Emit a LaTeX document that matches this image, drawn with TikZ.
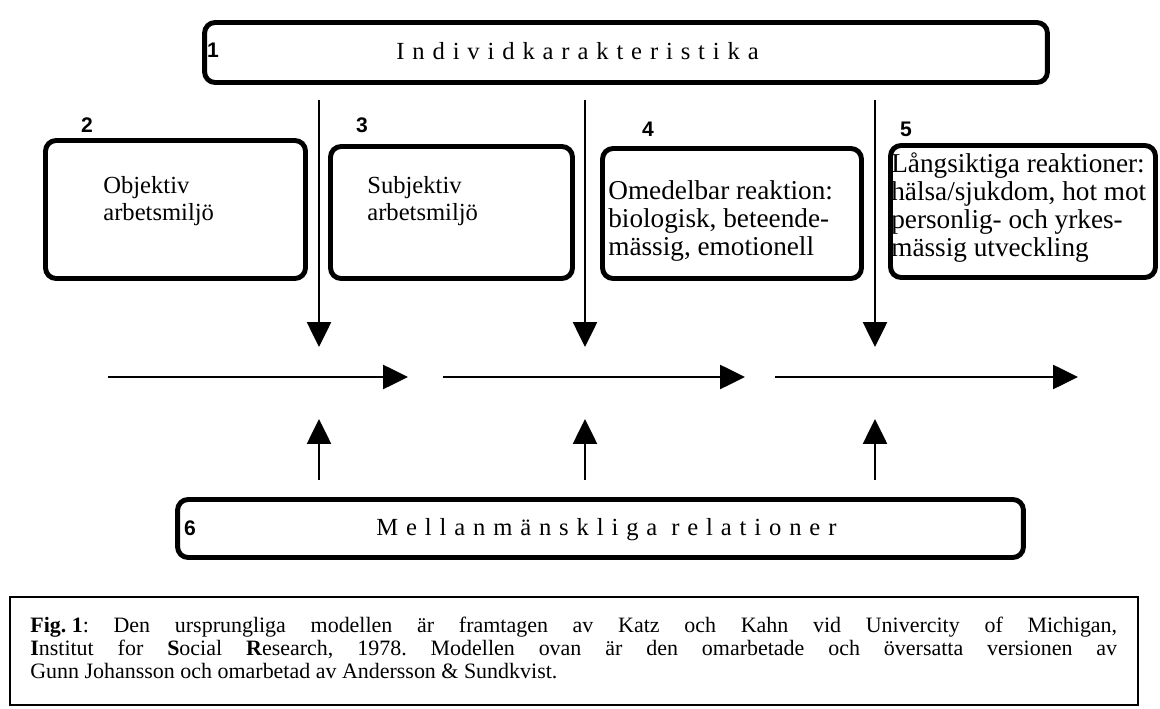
\documentclass[tikz,border=0pt]{standalone}
\usepackage{fontspec}
\setmainfont{Liberation Serif}
\newfontfamily\numfont{Liberation Sans}
\newfontfamily\spacedfont[LetterSpace=32]{Liberation Serif}
\usetikzlibrary{arrows.meta}
\usetikzlibrary{positioning}
\tikzset{stage/.style = {draw, line width=2.8pt, rounded corners=6pt, inner sep=0pt},
         boxtext/.style = {anchor=base west, align=left, inner sep=0pt,
                           font=\fontsize{14}{15.5}\selectfont},
         bigtext/.style = {boxtext, font=\fontsize{15.5}{16}\selectfont},
         num/.style = {inner sep=0pt, font=\numfont\bfseries\fontsize{12}{12}\selectfont},
         flow/.style = {line width=1.5pt, -{Triangle[length=0.5cm, width=0.48cm]}}}

\begin{document}
\begin{tikzpicture}[x=0.02cm, y=-0.02cm]
      \useasboundingbox (0,0) rectangle (1160,709);
      \node [stage, minimum width=16.86cm, minimum height=1.2cm] (ind) at (626,52.5) {};
      \node [stage, minimum width=5.2cm, minimum height=2.76cm] (obj) at (175.5,209.5) {};
      \node [stage, minimum width=4.84cm, minimum height=2.64cm] (subj) at (451.5,212.5) {};
      \node [stage, minimum width=5.18cm, minimum height=2.6cm] (omed) at (732,213.5) {};
      \node [stage, minimum width=5.3cm, minimum height=2.64cm] (lang) at (1023,211.5) {};
      \node [stage, minimum width=16.92cm, minimum height=1.16cm] (mellan) at (600.5,528.5) {};
      \node [draw, line width=1pt, inner sep=0pt, minimum width=22.56cm, minimum height=2.16cm] (figbox) at (574,651) {};

      \node [num] (n1) at (213,50) {1};
      \node [num] (n2) at (87,125) {2};
      \node [num] (n3) at (362,125) {3};
      \node [num] (n4) at (648,129) {4};
      \node [num] (n5) at (906,129) {5};
      \node [num] (n6) at (190,528) {6};

      \node [boxtext, font=\spacedfont\fontsize{14}{15.5}\selectfont] (indtext) at (396,60) {Individkarakteristika};
      \node [boxtext, font=\spacedfont\fontsize{14}{15.5}\selectfont] (mellantext) at (376,536) {Mellanmänskliga relationer};
      \node [boxtext] (objtext) at (103,221) {Objektiv\\arbetsmiljö};
      \node [boxtext] (subjtext) at (367,221) {Subjektiv\\arbetsmiljö};
      \node [bigtext] (omedtext) at (608,256) {Omedelbar reaktion:\\biologisk, beteende-\\mässig, emotionell};
      \node [bigtext] (langtext) at (891,257) {Långsiktiga reaktioner:\\hälsa/sjukdom, hot mot\\personlig- och yrkes-\\mässig utveckling};

      \node [anchor=base west, inner sep=0pt, text width=21.74cm, align=justify,
             font=\fontsize{12.5}{13.3}\selectfont\frenchspacing] (figtext) at (30,632)
            {\textbf{Fig.\hskip 0.25em 1}: Den ursprungliga modellen är framtagen av Katz och Kahn vid Univercity of Michigan,\linebreak
             \textbf{I}nstitut for \textbf{S}ocial \textbf{R}esearch, 1978. Modellen ovan är den omarbetade och översatta versionen av\linebreak
             Gunn Johansson och omarbetad av Andersson \& Sundkvist.};

      \foreach \i/\xpos in {1/319, 2/585, 3/875} {
        \coordinate (top\i) at (\xpos,100);
        \coordinate (mid\i) at (\xpos,347);
        \coordinate (low\i) at (\xpos,480);
        \coordinate (up\i) at (\xpos,419);
        \draw [flow] (top\i) -- (mid\i);
        \draw [flow] (low\i) -- (up\i);
      }
      \foreach \i/\xa/\xb in {1/108/408, 2/443/745, 3/775/1078} {
        \coordinate (from\i) at (\xa,377);
        \coordinate (to\i) at (\xb,377);
        \draw [flow] (from\i) -- (to\i);
      }
\end{tikzpicture}
\end{document}
